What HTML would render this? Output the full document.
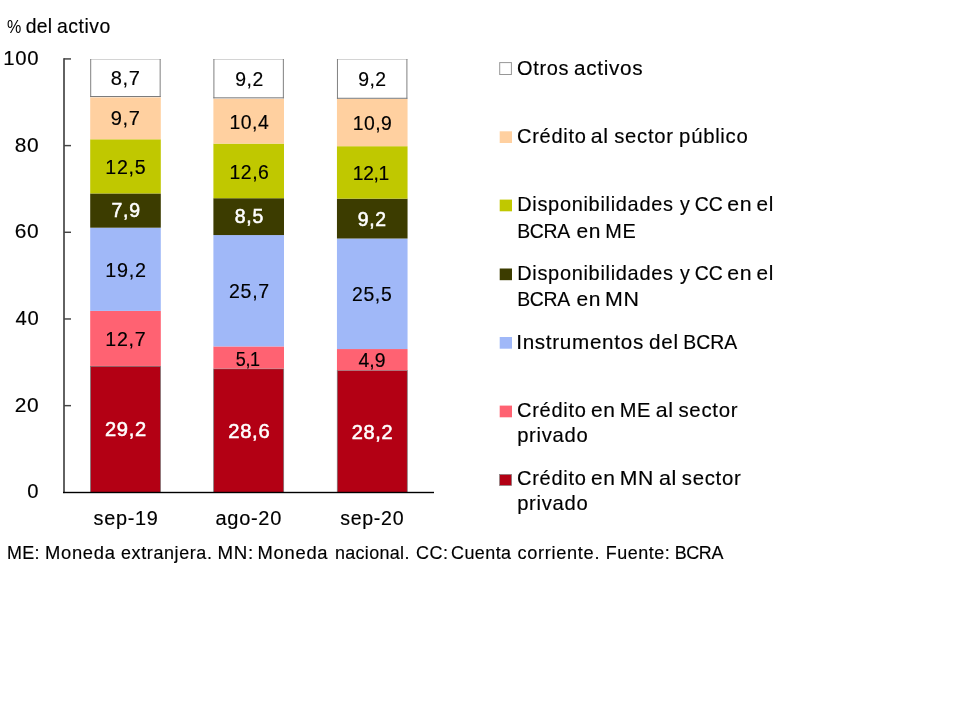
<!DOCTYPE html>
<html lang="es"><head><meta charset="utf-8"><title>Composición del activo</title>
<style>
html,body{margin:0;padding:0;background:#fff;}
body{width:960px;height:720px;overflow:hidden;position:relative;font-family:"Liberation Sans",sans-serif;}
svg{position:absolute;left:0;top:0;}
text{font-family:"Liberation Sans",sans-serif;fill:#000;stroke:#000;stroke-width:0.16px;}
.w{fill:#fff;stroke:#fff;stroke-width:0.55px;}
.p{stroke:none;}
</style></head><body>
<svg width="960" height="720" viewBox="0 0 960 720">

<rect x="90.50" y="366.25" width="70.00" height="126.25" fill="#B30014" stroke="#757575" stroke-width="0.7"/>
<rect x="90.20" y="310.91" width="70.60" height="55.04" fill="#FF6272"/>
<rect x="90.20" y="227.69" width="70.60" height="83.21" fill="#A0B8F8"/>
<rect x="90.20" y="193.45" width="70.60" height="34.24" fill="#3C3C00"/>
<rect x="90.20" y="139.28" width="70.60" height="54.17" fill="#C0C800"/>
<rect x="90.20" y="97.24" width="70.60" height="42.04" fill="#FFD0A0"/>
<rect x="90.20" y="59.00" width="70.60" height="38.24" fill="#fff"/>
<rect x="90.20" y="59.00" width="70.60" height="1" fill="#d4d4d4"/>
<rect x="90.20" y="59.00" width="1" height="38.04" fill="#808080"/>
<rect x="159.65" y="59.00" width="1" height="38.04" fill="#808080"/>
<rect x="90.20" y="96.04" width="70.45" height="1" fill="#787878"/>
<rect x="213.70" y="368.85" width="70.00" height="123.65" fill="#B30014" stroke="#757575" stroke-width="0.7"/>
<rect x="213.40" y="346.44" width="70.60" height="22.10" fill="#FF6272"/>
<rect x="213.40" y="235.06" width="70.60" height="111.38" fill="#A0B8F8"/>
<rect x="213.40" y="198.22" width="70.60" height="36.84" fill="#3C3C00"/>
<rect x="213.40" y="143.61" width="70.60" height="54.61" fill="#C0C800"/>
<rect x="213.40" y="98.54" width="70.60" height="45.07" fill="#FFD0A0"/>
<rect x="213.40" y="59.00" width="70.60" height="39.54" fill="#fff"/>
<rect x="213.40" y="59.00" width="70.60" height="1" fill="#d4d4d4"/>
<rect x="213.40" y="59.00" width="1" height="39.34" fill="#808080"/>
<rect x="282.85" y="59.00" width="1" height="39.34" fill="#808080"/>
<rect x="213.40" y="97.34" width="70.45" height="1" fill="#787878"/>
<rect x="337.25" y="370.58" width="70.00" height="121.92" fill="#B30014" stroke="#757575" stroke-width="0.7"/>
<rect x="336.95" y="349.04" width="70.60" height="21.24" fill="#FF6272"/>
<rect x="336.95" y="238.53" width="70.60" height="110.52" fill="#A0B8F8"/>
<rect x="336.95" y="198.65" width="70.60" height="39.87" fill="#3C3C00"/>
<rect x="336.95" y="146.21" width="70.60" height="52.44" fill="#C0C800"/>
<rect x="336.95" y="98.97" width="70.60" height="47.24" fill="#FFD0A0"/>
<rect x="336.95" y="59.00" width="70.60" height="39.97" fill="#fff"/>
<rect x="336.95" y="59.00" width="70.60" height="1" fill="#d4d4d4"/>
<rect x="336.95" y="59.00" width="1" height="39.77" fill="#808080"/>
<rect x="406.40" y="59.00" width="1" height="39.77" fill="#808080"/>
<rect x="336.95" y="97.77" width="70.45" height="1" fill="#787878"/>
<rect x="63" y="58.2" width="2" height="434.90" fill="#626262"/>
<rect x="64" y="404.92" width="7" height="1.45" fill="#444"/>
<rect x="64" y="318.24" width="7" height="1.45" fill="#444"/>
<rect x="64" y="231.56" width="7" height="1.45" fill="#444"/>
<rect x="64" y="144.88" width="7" height="1.45" fill="#444"/>
<rect x="64" y="58.20" width="7" height="1.45" fill="#444"/>
<rect x="63" y="491.80" width="371" height="1.4" fill="#000"/>
<rect x="499.7" y="62.6" width="11.7" height="11.9" fill="#fff" stroke="#979797" stroke-width="1"/>
<rect x="499.7" y="131.30" width="12.3" height="11.7" fill="#FFD0A0"/>
<rect x="499.7" y="199.60" width="12.3" height="11.7" fill="#C0C800"/>
<rect x="499.7" y="268.50" width="12.3" height="11.7" fill="#3C3C00"/>
<rect x="499.7" y="337.00" width="12.3" height="11.7" fill="#A0B8F8"/>
<rect x="499.7" y="405.60" width="12.3" height="11.7" fill="#FF6272"/>
<rect x="499.55" y="474.40" width="12.1" height="11.1" fill="#B30014" stroke="#858585" stroke-width="0.7"/>
<text class="p" transform="translate(6.95,32.50) scale(0.8693,1)" style="font-size:18.5px;">%</text>
<text transform="translate(25.73,32.50) scale(0.9700,1)" style="font-size:20px;letter-spacing:0.20px;">del</text>
<text transform="translate(57.03,32.50) scale(0.9700,1)" style="font-size:20px;letter-spacing:0.56px;">activo</text>
<text transform="translate(27.33,498.40) scale(1.0104,1)" style="font-size:20px;">0</text>
<text transform="translate(14.75,411.72) scale(1.0459,1)" style="font-size:20px;letter-spacing:0.67px;">20</text>
<text transform="translate(15.48,325.04) scale(1.0119,1)" style="font-size:20px;letter-spacing:0.69px;">40</text>
<text transform="translate(14.75,238.36) scale(1.0459,1)" style="font-size:20px;letter-spacing:0.67px;">60</text>
<text transform="translate(14.75,151.68) scale(1.0459,1)" style="font-size:20px;letter-spacing:0.67px;">80</text>
<text transform="translate(3.17,65.00) scale(1.0171,1)" style="font-size:20px;letter-spacing:0.69px;">100</text>
<text transform="translate(93.49,525.40) scale(0.9951,1)" style="font-size:20px;letter-spacing:0.70px;">sep-19</text>
<text transform="translate(215.50,525.40) scale(1.0004,1)" style="font-size:20px;letter-spacing:0.70px;">ago-20</text>
<text transform="translate(340.20,525.40) scale(0.9790,1)" style="font-size:20px;letter-spacing:0.72px;">sep-20</text>
<text transform="translate(7.05,558.90) scale(0.9700,1)" style="font-size:18.5px;letter-spacing:0.33px;">ME:</text>
<text transform="translate(45.01,558.90) scale(0.9942,1)" style="font-size:18.5px;letter-spacing:0.70px;">Moneda</text>
<text transform="translate(121.03,558.90) scale(0.9700,1)" style="font-size:18.5px;letter-spacing:0.63px;">extranjera.</text>
<text transform="translate(217.59,558.90) scale(1.0109,1)" style="font-size:18.5px;letter-spacing:0.69px;">MN:</text>
<text transform="translate(257.61,558.90) scale(0.9942,1)" style="font-size:18.5px;letter-spacing:0.70px;">Moneda</text>
<text transform="translate(334.95,558.90) scale(0.9700,1)" style="font-size:18.5px;letter-spacing:0.34px;">nacional.</text>
<text transform="translate(416.03,558.90) scale(0.9700,1)" style="font-size:18.5px;letter-spacing:0.52px;">CC:</text>
<text transform="translate(451.03,558.90) scale(0.9700,1)" style="font-size:18.5px;letter-spacing:0.45px;">Cuenta</text>
<text transform="translate(517.42,558.90) scale(0.9830,1)" style="font-size:18.5px;letter-spacing:0.71px;">corriente.</text>
<text transform="translate(605.65,558.90) scale(0.9700,1)" style="font-size:18.5px;letter-spacing:0.55px;">Fuente:</text>
<text transform="translate(674.65,558.90) scale(0.9700,1)" style="font-size:18.5px;letter-spacing:-0.38px;">BCRA</text>
<text transform="translate(517.00,74.70) scale(0.9981,1)" style="font-size:20px;letter-spacing:0.70px;">Otros</text>
<text transform="translate(573.96,74.70) scale(1.0363,1)" style="font-size:20px;letter-spacing:0.68px;">activos</text>
<text transform="translate(517.00,143.00) scale(1.0029,1)" style="font-size:20px;letter-spacing:0.70px;">Crédito</text>
<text transform="translate(590.63,143.00) scale(1.0692,1)" style="font-size:20px;letter-spacing:0.65px;">al</text>
<text transform="translate(614.28,143.00) scale(1.0133,1)" style="font-size:20px;letter-spacing:0.69px;">sector</text>
<text transform="translate(679.12,143.00) scale(1.0169,1)" style="font-size:20px;letter-spacing:0.69px;">público</text>
<text transform="translate(517.16,211.40) scale(0.9989,1)" style="font-size:20px;letter-spacing:0.70px;">Disponibilidades</text>
<text transform="translate(679.94,211.40) scale(0.9793,1)" style="font-size:20px;">y</text>
<text transform="translate(694.83,211.40) scale(0.9700,1)" style="font-size:20px;letter-spacing:0.01px;">CC</text>
<text transform="translate(727.23,211.40) scale(1.0650,1)" style="font-size:20px;letter-spacing:0.66px;">en</text>
<text transform="translate(756.46,211.40) scale(1.0385,1)" style="font-size:20px;letter-spacing:0.67px;">el</text>
<text transform="translate(517.20,237.80) scale(0.9700,1)" style="font-size:20px;letter-spacing:-0.34px;">BCRA</text>
<text transform="translate(576.45,237.80) scale(1.0500,1)" style="font-size:20px;letter-spacing:0.67px;">en</text>
<text transform="translate(605.16,237.80) scale(0.9944,1)" style="font-size:20px;letter-spacing:0.70px;">ME</text>
<text transform="translate(517.16,280.00) scale(0.9989,1)" style="font-size:20px;letter-spacing:0.70px;">Disponibilidades</text>
<text transform="translate(679.94,280.00) scale(0.9793,1)" style="font-size:20px;">y</text>
<text transform="translate(694.83,280.00) scale(0.9700,1)" style="font-size:20px;letter-spacing:0.01px;">CC</text>
<text transform="translate(727.23,280.00) scale(1.0650,1)" style="font-size:20px;letter-spacing:0.66px;">en</text>
<text transform="translate(756.46,280.00) scale(1.0385,1)" style="font-size:20px;letter-spacing:0.67px;">el</text>
<text transform="translate(517.20,306.40) scale(0.9700,1)" style="font-size:20px;letter-spacing:-0.34px;">BCRA</text>
<text transform="translate(576.45,306.40) scale(1.0500,1)" style="font-size:20px;letter-spacing:0.67px;">en</text>
<text transform="translate(605.05,306.40) scale(1.0689,1)" style="font-size:20px;letter-spacing:0.65px;">MN</text>
<text transform="translate(516.24,348.60) scale(1.0318,1)" style="font-size:20px;letter-spacing:0.68px;">Instrumentos</text>
<text transform="translate(648.97,348.60) scale(1.0348,1)" style="font-size:20px;letter-spacing:0.68px;">del</text>
<text transform="translate(683.20,348.60) scale(0.9700,1)" style="font-size:20px;letter-spacing:0.01px;">BCRA</text>
<text transform="translate(517.00,417.20) scale(1.0029,1)" style="font-size:20px;letter-spacing:0.70px;">Crédito</text>
<text transform="translate(590.95,417.20) scale(1.0500,1)" style="font-size:20px;letter-spacing:0.67px;">en</text>
<text transform="translate(619.75,417.20) scale(1.0016,1)" style="font-size:20px;letter-spacing:0.70px;">ME</text>
<text transform="translate(655.63,417.20) scale(1.0692,1)" style="font-size:20px;letter-spacing:0.65px;">al</text>
<text transform="translate(678.48,417.20) scale(1.0190,1)" style="font-size:20px;letter-spacing:0.69px;">sector</text>
<text transform="translate(517.13,442.40) scale(1.0114,1)" style="font-size:20px;letter-spacing:0.69px;">privado</text>
<text transform="translate(517.00,485.40) scale(1.0029,1)" style="font-size:20px;letter-spacing:0.70px;">Crédito</text>
<text transform="translate(590.95,485.40) scale(1.0500,1)" style="font-size:20px;letter-spacing:0.67px;">en</text>
<text transform="translate(619.67,485.40) scale(1.0582,1)" style="font-size:20px;letter-spacing:0.66px;">MN</text>
<text transform="translate(658.92,485.40) scale(1.0769,1)" style="font-size:20px;letter-spacing:0.65px;">al</text>
<text transform="translate(681.78,485.40) scale(1.0190,1)" style="font-size:20px;letter-spacing:0.69px;">sector</text>
<text transform="translate(517.13,510.40) scale(1.0114,1)" style="font-size:20px;letter-spacing:0.69px;">privado</text>
<text class="w" transform="translate(104.99,436.40) scale(1.0054,1)" style="font-size:20px;letter-spacing:0.70px;">29,2</text>
<text transform="translate(105.32,345.80) scale(0.9811,1)" style="font-size:20px;letter-spacing:0.71px;">12,7</text>
<text transform="translate(105.31,276.70) scale(0.9893,1)" style="font-size:20px;letter-spacing:0.71px;">19,2</text>
<text class="w" transform="translate(111.53,217.20) scale(0.9731,1)" style="font-size:20px;letter-spacing:0.72px;">7,9</text>
<text transform="translate(105.32,173.70) scale(0.9811,1)" style="font-size:20px;letter-spacing:0.71px;">12,5</text>
<text transform="translate(110.70,124.80) scale(1.0038,1)" style="font-size:20px;letter-spacing:0.70px;">9,7</text>
<text transform="translate(110.70,84.80) scale(1.0038,1)" style="font-size:20px;letter-spacing:0.70px;">8,7</text>
<text class="w" transform="translate(228.29,437.70) scale(1.0081,1)" style="font-size:20px;letter-spacing:0.69px;">28,6</text>
<text transform="translate(235.80,365.60) scale(0.9000,1)" style="font-size:20px;letter-spacing:-0.40px;">5,1</text>
<text transform="translate(229.02,298.00) scale(0.9784,1)" style="font-size:20px;letter-spacing:0.72px;">25,7</text>
<text class="w" transform="translate(234.83,223.10) scale(0.9731,1)" style="font-size:20px;letter-spacing:0.72px;">8,5</text>
<text transform="translate(229.43,178.60) scale(0.9700,1)" style="font-size:20px;letter-spacing:0.59px;">12,6</text>
<text transform="translate(229.43,128.70) scale(0.9700,1)" style="font-size:20px;letter-spacing:0.57px;">10,4</text>
<text transform="translate(235.33,85.80) scale(0.9700,1)" style="font-size:20px;letter-spacing:0.51px;">9,2</text>
<text class="w" transform="translate(351.70,438.60) scale(0.9973,1)" style="font-size:20px;letter-spacing:0.70px;">28,2</text>
<text transform="translate(358.39,367.00) scale(0.9700,1)" style="font-size:20px;letter-spacing:0.06px;">4,9</text>
<text transform="translate(352.03,300.80) scale(0.9700,1)" style="font-size:20px;letter-spacing:0.66px;">25,5</text>
<text class="w" transform="translate(357.73,225.90) scale(0.9700,1)" style="font-size:20px;letter-spacing:0.71px;">9,2</text>
<text transform="translate(352.84,179.70) scale(0.9635,1)" style="font-size:20px;letter-spacing:-0.40px;">12,1</text>
<text transform="translate(352.83,129.50) scale(0.9700,1)" style="font-size:20px;letter-spacing:0.38px;">10,9</text>
<text transform="translate(358.23,86.20) scale(0.9700,1)" style="font-size:20px;letter-spacing:0.45px;">9,2</text>
</svg></body></html>
